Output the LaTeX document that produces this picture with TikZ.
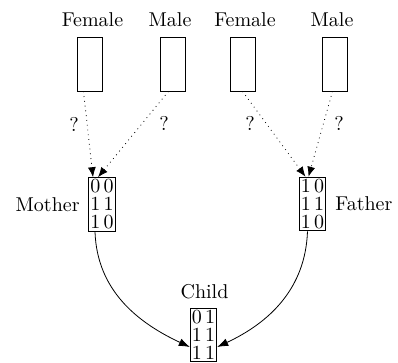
\documentclass[tikz,border=0pt]{standalone}
\usetikzlibrary{arrows.meta}
\begin{document}
\begin{tikzpicture}[x=0.5pt,y=-0.5pt,
  slot/.style={draw,minimum width=12.5pt,minimum height=27pt,inner sep=0pt},
  gene/.style={draw,align=center,inner xsep=0.8pt,inner ysep=1pt,font=\fontsize{10}{9}\selectfont},
  lbl/.style={inner sep=0pt},
  guess/.style={dotted,-{Latex[length=5pt,width=4pt]}},
  inherit/.style={-{Latex[length=5.5pt,width=4pt]}}]
\useasboundingbox (0,0) rectangle (398,363);
% top slots
\node[slot] (f1) at (89.5,64) {};
\node[slot] (m1) at (172.5,64) {};
\node[slot] (f2) at (242.5,64) {};
\node[slot] (m2) at (334.5,64) {};
\node[lbl] (lf1) at (92.5,20) {Female};
\node[lbl] (lm1) at (170,20) {Male};
\node[lbl] (lf2) at (245,20) {Female};
\node[lbl] (lm2) at (332,20) {Male};
% parents
\node[gene] (mother) at (102,204.5) {0\,0\\1\,1\\1\,0};
\node[gene] (father) at (312.5,204) {1\,0\\1\,1\\1\,0};
\node[lbl,anchor=east] (lmother) at (80,205) {Mother};
\node[lbl,anchor=west] (lfather) at (335,204) {Father};
% child
\node[gene] (child) at (203.5,335) {0\,1\\1\,1\\1\,1};
\node[lbl] (lchild) at (204.5,292) {Child};
% question marks
\node[lbl] (q1) at (74,124) {?};
\node[lbl] (q2) at (164,123) {?};
\node[lbl] (q3) at (250,123) {?};
\node[lbl] (q4) at (339,123) {?};
% dotted arrows
\draw[guess] ([xshift=-3pt]f1.south) -- ([xshift=-4.5pt]mother.north);
\draw[guess] ([xshift=-2pt]m1.south) -- ([xshift=-2pt]mother.north);
\draw[guess] (f2.south) -- ([xshift=-3.5pt]father.north);
\draw[guess] ([xshift=-1pt]m2.south) -- ([xshift=-2pt]father.north);
% inheritance
\draw[inherit] ([xshift=-3.5pt]mother.south) to[out=-88,in=155] ([yshift=-6pt]child.west);
\draw[inherit] ([xshift=-2.5pt]father.south) to[out=-92,in=25] ([yshift=-6pt]child.east);
\end{tikzpicture}
\end{document}
